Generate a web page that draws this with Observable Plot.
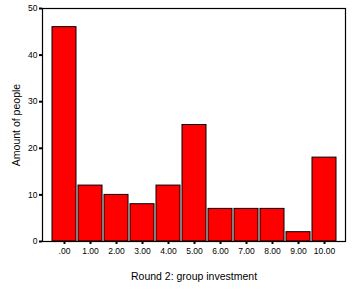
<!DOCTYPE html>
<html>
<head>
<meta charset="utf-8">
<script src="https://cdn.jsdelivr.net/npm/d3@7"></script>
<script src="https://cdn.jsdelivr.net/npm/@observablehq/plot@0.6"></script>
<style>
  html, body { margin: 0; padding: 0; background: #fff; }
  svg { font-family: "Liberation Sans", Arial, sans-serif; }
</style>
</head>
<body>
<div id="chart"></div>
<script>
const categories = [".00", "1.00", "2.00", "3.00", "4.00", "5.00", "6.00", "7.00", "8.00", "9.00", "10.00"];
const counts = [46, 12, 10, 8, 12, 25, 7, 7, 7, 2, 18];
const yTicks = [0, 10, 20, 30, 40, 50];

const data = categories.map((c, i) => ({category: c, count: counts[i]}));

const chart = Plot.plot({
  width: 362,
  height: 290,
  marginLeft: 42,
  marginRight: 17,
  marginTop: 8,
  marginBottom: 49,
  style: {fontFamily: "Liberation Sans, Arial, sans-serif", fontSize: "8.5px", background: "#fff", color: "#000"},
  x: {domain: categories, paddingInner: 0.08, paddingOuter: 0.3},
  y: {domain: [0, 50]},
  marks: [
    Plot.barY(data, {x: "category", y: "count", fill: "#ff0000", stroke: "#000", strokeWidth: 1}),
    Plot.frame({stroke: "#000", strokeWidth: 1.2}),
    Plot.axisY({ticks: yTicks, tickSize: 3, tickPadding: 2, strokeWidth: 2, fontSize: 8.5,
      label: "Amount of people", labelAnchor: "center", labelArrow: "none", labelOffset: 30}),
    Plot.axisX({tickSize: 3, tickPadding: 3, strokeWidth: 2, fontSize: 8.5,
      label: "Round 2: group investment", labelAnchor: "center", labelArrow: "none", labelOffset: 38})
  ]
});
chart.querySelectorAll("g[aria-label='y-axis label'] text, g[aria-label='x-axis label'] text").forEach(t => t.setAttribute("font-size", "10.5"));
document.getElementById("chart").appendChild(chart);
</script>
</body>
</html>
